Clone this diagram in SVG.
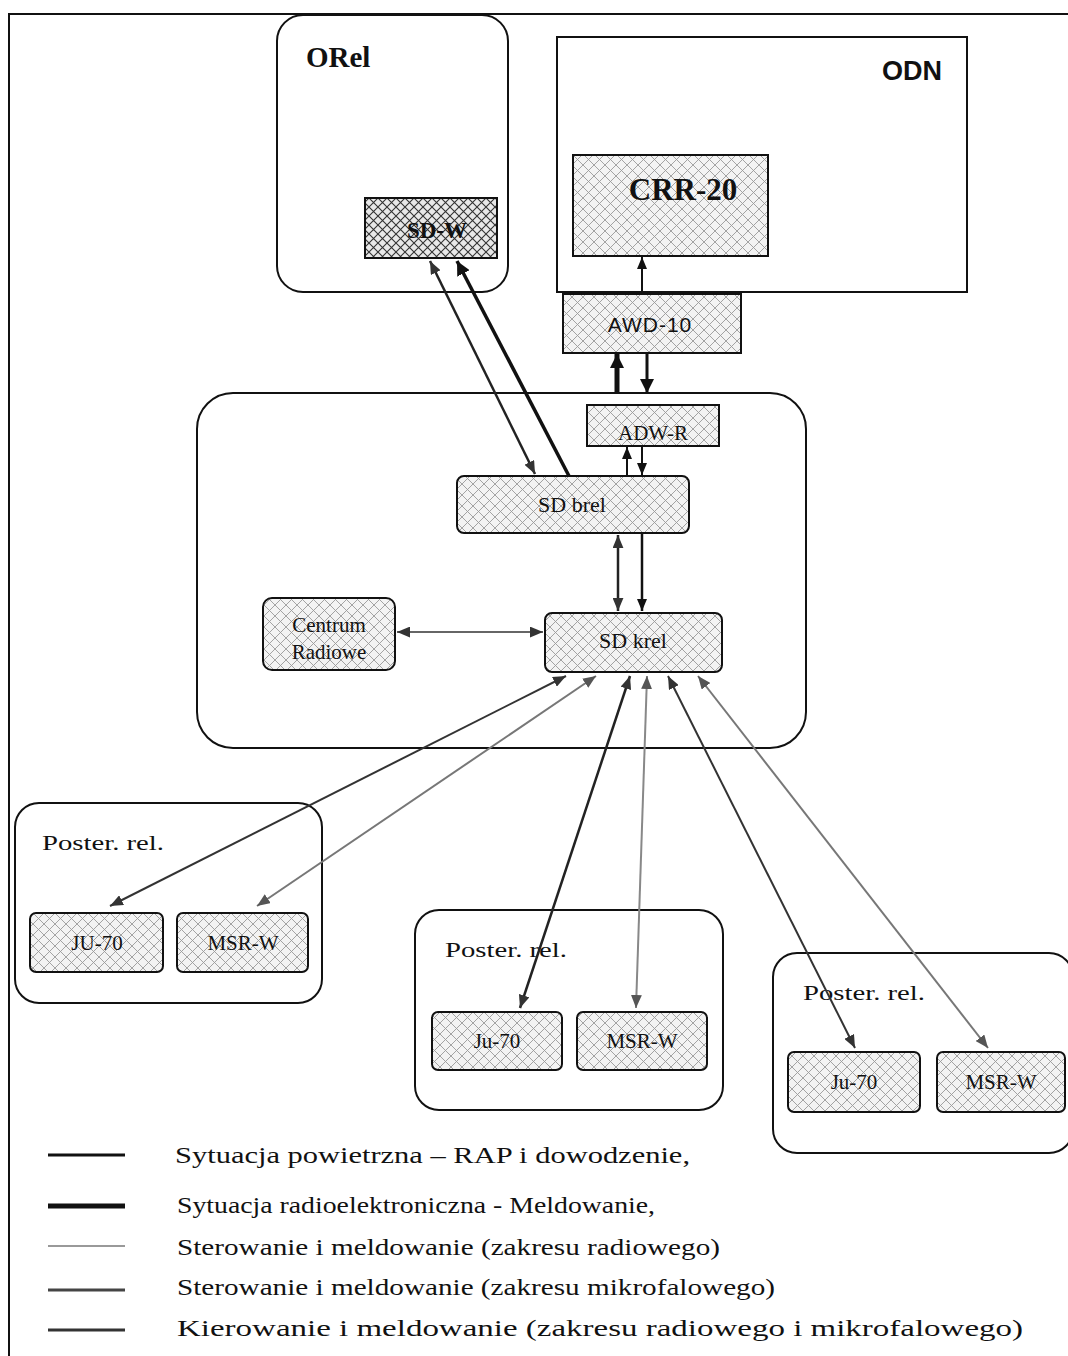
<svg xmlns="http://www.w3.org/2000/svg" width="1068" height="1356" viewBox="0 0 1068 1356">
  <style>
    .box { stroke: #111; stroke-width: 2; }
    .frame { fill: none; stroke: #111; stroke-width: 2; }
    .serif { font-family: "Liberation Serif", "DejaVu Serif", serif; fill: #111; }
    .sans { font-family: "Liberation Sans", Arial, sans-serif; fill: #111; }
    .lbl { text-anchor: middle; }
  </style>
  <defs>
    <pattern id="hatch" patternUnits="userSpaceOnUse" width="11" height="11">
      <rect width="11" height="11" fill="#f3f3f3"/>
      <path d="M0,0 L11,11 M11,0 L0,11" stroke="#9a9a9a" stroke-width="0.9"/>
    </pattern>
    <pattern id="hatchDark" patternUnits="userSpaceOnUse" width="9" height="9">
      <rect width="9" height="9" fill="#e8e8e8"/>
      <path d="M0,0 L9,9 M9,0 L0,9" stroke="#333" stroke-width="1.1"/>
    </pattern>
    <marker id="ahK" viewBox="0 0 12 10" refX="12" refY="5" markerWidth="12" markerHeight="10" markerUnits="userSpaceOnUse" orient="auto-start-reverse">
      <path d="M0,0 L12,5 L0,10 Z" fill="#111"/>
    </marker>
    <marker id="ahBig" viewBox="0 0 14 14" refX="14" refY="7" markerWidth="14" markerHeight="14" markerUnits="userSpaceOnUse" orient="auto-start-reverse">
      <path d="M0,0 L14,7 L0,14 Z" fill="#111"/>
    </marker>
    <marker id="ahD" viewBox="0 0 12 10" refX="12" refY="5" markerWidth="13" markerHeight="11" markerUnits="userSpaceOnUse" orient="auto-start-reverse">
      <path d="M0,0 L12,5 L0,10 Z" fill="#333"/>
    </marker>
    <marker id="ahG" viewBox="0 0 12 10" refX="12" refY="5" markerWidth="13" markerHeight="11" markerUnits="userSpaceOnUse" orient="auto-start-reverse">
      <path d="M0,0 L12,5 L0,10 Z" fill="#555"/>
    </marker>
  </defs>

  <rect width="1068" height="1356" fill="#fff"/>
  <!-- page frame (top and left edges only) -->
  <path class="frame" d="M9,1356 L9,14 L1068,14"/>

  <!-- ORel with SD-W -->
  <g id="orel">
    <rect class="box" x="277" y="15" width="231" height="277" rx="26" fill="#fff"/>
    <text class="serif" x="306" y="67" style="font-size:29px;font-weight:bold">ORel</text>
  </g>
  <g id="sd-w">
    <rect class="box" x="365" y="198" width="132" height="60" fill="url(#hatchDark)"/>
    <text class="serif lbl" x="437" y="238" style="font-size:23px;font-weight:bold">SD-W</text>
  </g>

  <!-- ODN with CRR-20 -->
  <g id="odn">
    <rect class="box" x="557" y="37" width="410" height="255" fill="#fff"/>
    <text class="sans" x="942" y="80" text-anchor="end" style="font-size:27px;font-weight:bold">ODN</text>
  </g>
  <g id="crr-20">
    <rect class="box" x="573" y="155" width="195" height="101" fill="url(#hatch)"/>
    <text class="serif lbl" x="683" y="200" style="font-size:31px;font-weight:bold">CRR-20</text>
  </g>
  <g id="awd-10">
    <rect class="box" x="563" y="294" width="178" height="59" fill="url(#hatch)"/>
    <text class="sans lbl" x="650" y="332" style="font-size:21px;letter-spacing:1px">AWD-10</text>
  </g>

  <!-- central post -->
  <g id="central">
    <rect class="box" x="197" y="393" width="609" height="355" rx="36" fill="none"/>
  </g>
  <g id="adw-r">
    <rect class="box" x="587" y="405" width="132" height="41" fill="url(#hatch)"/>
    <text class="serif lbl" x="653" y="440" style="font-size:21px">ADW-R</text>
  </g>
  <g id="sd-brel">
    <rect class="box" x="457" y="476" width="232" height="57" rx="7" fill="url(#hatch)"/>
    <text class="serif lbl" x="572" y="512" style="font-size:22px">SD brel</text>
  </g>
  <g id="sd-krel">
    <rect class="box" x="545" y="613" width="177" height="59" rx="7" fill="url(#hatch)"/>
    <text class="serif lbl" x="633" y="648" style="font-size:22px">SD krel</text>
  </g>
  <g id="centrum">
    <rect class="box" x="263" y="598" width="132" height="72" rx="9" fill="url(#hatch)"/>
    <text class="serif lbl" x="329" y="632" style="font-size:21px">Centrum</text>
    <text class="serif lbl" x="329" y="659" style="font-size:21px">Radiowe</text>
  </g>

  <!-- outstations -->
  <g id="poster-1">
    <rect class="box" x="15" y="803" width="307" height="200" rx="24" fill="none"/>
    <text class="serif" x="42" y="850" style="font-size:22px" textLength="122" lengthAdjust="spacingAndGlyphs">Poster. rel.</text>
  </g>
  <g id="ju-70-1">
    <rect class="box" x="30" y="913" width="133" height="59" rx="6" fill="url(#hatch)"/>
    <text class="serif lbl" x="97" y="950" style="font-size:21px">JU-70</text>
  </g>
  <g id="msr-w-1">
    <rect class="box" x="177" y="913" width="131" height="59" rx="6" fill="url(#hatch)"/>
    <text class="serif lbl" x="243" y="950" style="font-size:21px">MSR-W</text>
  </g>

  <g id="poster-2">
    <rect class="box" x="415" y="910" width="308" height="200" rx="24" fill="none"/>
    <text class="serif" x="445" y="957" style="font-size:22px" textLength="122" lengthAdjust="spacingAndGlyphs">Poster. rel.</text>
  </g>
  <g id="ju-70-2">
    <rect class="box" x="432" y="1012" width="130" height="58" rx="6" fill="url(#hatch)"/>
    <text class="serif lbl" x="497" y="1048" style="font-size:21px">Ju-70</text>
  </g>
  <g id="msr-w-2">
    <rect class="box" x="577" y="1012" width="130" height="58" rx="6" fill="url(#hatch)"/>
    <text class="serif lbl" x="642" y="1048" style="font-size:21px">MSR-W</text>
  </g>

  <g id="poster-3">
    <rect class="box" x="773" y="953" width="300" height="200" rx="24" fill="none"/>
    <text class="serif" x="803" y="1000" style="font-size:22px" textLength="122" lengthAdjust="spacingAndGlyphs">Poster. rel.</text>
  </g>
  <g id="ju-70-3">
    <rect class="box" x="788" y="1052" width="132" height="60" rx="6" fill="url(#hatch)"/>
    <text class="serif lbl" x="854" y="1089" style="font-size:21px">Ju-70</text>
  </g>
  <g id="msr-w-3">
    <rect class="box" x="937" y="1052" width="128" height="60" rx="6" fill="url(#hatch)"/>
    <text class="serif lbl" x="1001" y="1089" style="font-size:21px">MSR-W</text>
  </g>

  <!-- connectors -->
  <g id="connectors" fill="none">
    <!-- AWD-10 to CRR-20 -->
    <line x1="642" y1="293" x2="642" y2="257" stroke="#111" stroke-width="2" marker-end="url(#ahK)"/>
    <!-- AWD-10 / central post -->
    <line x1="617" y1="393" x2="617" y2="354" stroke="#111" stroke-width="5" marker-end="url(#ahBig)"/>
    <line x1="647" y1="354" x2="647" y2="393" stroke="#111" stroke-width="3" marker-end="url(#ahBig)"/>
    <!-- ADW-R / SD brel -->
    <line x1="627" y1="476" x2="627" y2="447" stroke="#111" stroke-width="2" marker-end="url(#ahK)"/>
    <line x1="642" y1="446" x2="642" y2="475" stroke="#111" stroke-width="2" marker-end="url(#ahK)"/>
    <!-- SD-W / SD brel -->
    <line x1="430" y1="261" x2="535" y2="474" stroke="#222" stroke-width="2.5" marker-start="url(#ahD)" marker-end="url(#ahD)"/>
    <line x1="569" y1="476" x2="457" y2="261" stroke="#111" stroke-width="3.5" marker-end="url(#ahBig)"/>
    <!-- SD brel / SD krel -->
    <line x1="618" y1="535" x2="618" y2="611" stroke="#222" stroke-width="2.5" marker-start="url(#ahD)" marker-end="url(#ahD)"/>
    <line x1="642" y1="534" x2="642" y2="611" stroke="#111" stroke-width="2.5" marker-end="url(#ahK)"/>
    <!-- Centrum Radiowe / SD krel -->
    <line x1="397" y1="632" x2="543" y2="632" stroke="#666" stroke-width="2" marker-start="url(#ahD)" marker-end="url(#ahD)"/>
    <!-- SD krel to outstations -->
    <line x1="566" y1="676" x2="110" y2="906" stroke="#333" stroke-width="2" marker-start="url(#ahD)" marker-end="url(#ahD)"/>
    <line x1="596" y1="676" x2="257" y2="906" stroke="#777" stroke-width="2" marker-start="url(#ahG)" marker-end="url(#ahG)"/>
    <line x1="630" y1="676" x2="520" y2="1008" stroke="#222" stroke-width="2.5" marker-start="url(#ahD)" marker-end="url(#ahD)"/>
    <line x1="647" y1="676" x2="636" y2="1008" stroke="#888" stroke-width="2" marker-start="url(#ahG)" marker-end="url(#ahG)"/>
    <line x1="668" y1="676" x2="855" y2="1048" stroke="#333" stroke-width="2" marker-start="url(#ahD)" marker-end="url(#ahD)"/>
    <line x1="698" y1="676" x2="988" y2="1048" stroke="#777" stroke-width="2" marker-start="url(#ahG)" marker-end="url(#ahG)"/>
  </g>

  <!-- legend -->
  <g id="legend">
    <line x1="48" y1="1155" x2="125" y2="1155" stroke="#111" stroke-width="3"/>
    <line x1="48" y1="1206" x2="125" y2="1206" stroke="#111" stroke-width="5"/>
    <line x1="48" y1="1246" x2="125" y2="1246" stroke="#777" stroke-width="1.5"/>
    <line x1="48" y1="1290" x2="125" y2="1290" stroke="#444" stroke-width="3"/>
    <line x1="48" y1="1330" x2="125" y2="1330" stroke="#333" stroke-width="3"/>
    <text class="serif" x="175" y="1163" style="font-size:23px" textLength="515" lengthAdjust="spacingAndGlyphs">Sytuacja powietrzna – RAP i dowodzenie,</text>
    <text class="serif" x="177" y="1213" style="font-size:23px" textLength="478" lengthAdjust="spacingAndGlyphs">Sytuacja radioelektroniczna - Meldowanie,</text>
    <text class="serif" x="177" y="1255" style="font-size:23px" textLength="543" lengthAdjust="spacingAndGlyphs">Sterowanie i meldowanie (zakresu radiowego)</text>
    <text class="serif" x="177" y="1295" style="font-size:23px" textLength="598" lengthAdjust="spacingAndGlyphs">Sterowanie i meldowanie (zakresu mikrofalowego)</text>
    <text class="serif" x="177" y="1336" style="font-size:23px" textLength="846" lengthAdjust="spacingAndGlyphs">Kierowanie i meldowanie (zakresu radiowego i mikrofalowego)</text>
  </g>
</svg>
